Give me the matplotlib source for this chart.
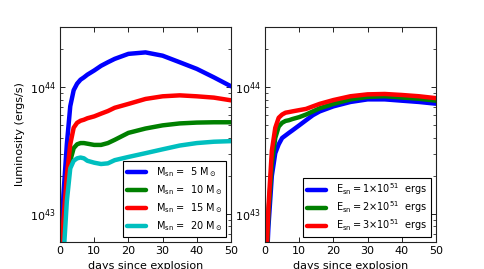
import matplotlib
matplotlib.use("Agg")
import matplotlib.pyplot as plt
import numpy as np

# time grid (days since explosion)
days = [0, 1, 2, 3, 4, 5, 6, 7, 8, 10, 12, 14, 16, 20, 25, 30, 35, 40, 45, 50]

# Left panel: luminosity in units of 1e43 erg/s for different ejecta masses
lum_m5 = [0.32, 1.41, 3.55, 7.1, 9.5, 10.7, 11.5, 12.0, 12.6, 13.6, 14.8, 15.8, 16.8, 18.4, 18.9, 17.8, 15.8, 14.0, 12.0, 10.2]
lum_m10 = [0.20, 0.71, 1.58, 2.63, 3.31, 3.55, 3.63, 3.63, 3.59, 3.51, 3.51, 3.63, 3.85, 4.37, 4.73, 5.01, 5.19, 5.27, 5.30, 5.30]
lum_m15 = [0.25, 0.89, 2.0, 3.55, 4.8, 5.25, 5.45, 5.55, 5.7, 5.9, 6.2, 6.5, 6.9, 7.4, 8.1, 8.5, 8.65, 8.5, 8.3, 7.9]
lum_m20 = [0.16, 0.45, 1.26, 2.29, 2.63, 2.75, 2.79, 2.75, 2.63, 2.54, 2.48, 2.51, 2.66, 2.82, 3.02, 3.24, 3.47, 3.63, 3.72, 3.76]

# Right panel: luminosity in units of 1e43 erg/s for different explosion energies
lum_e1 = [0.20, 0.79, 2.0, 3.02, 3.55, 3.98, 4.17, 4.37, 4.57, 5.01, 5.50, 6.03, 6.46, 7.08, 7.67, 8.04, 8.04, 7.85, 7.67, 7.43]
lum_e2 = [0.22, 1.0, 2.51, 3.98, 4.9, 5.25, 5.43, 5.5, 5.62, 5.82, 6.1, 6.46, 6.84, 7.41, 8.04, 8.41, 8.51, 8.32, 8.13, 7.85]
lum_e3 = [0.25, 1.12, 3.16, 4.79, 5.75, 6.1, 6.31, 6.38, 6.46, 6.61, 6.76, 7.08, 7.41, 7.94, 8.51, 8.81, 8.87, 8.71, 8.51, 8.22]

left_series = [lum_m5, lum_m10, lum_m15, lum_m20]
left_labels = [r'M$_{\rm sn}$ =  5 M$_\odot$', r'M$_{\rm sn}$ =  10 M$_\odot$',
               r'M$_{\rm sn}$ =  15 M$_\odot$', r'M$_{\rm sn}$ =  20 M$_\odot$']
left_colors = ['#0000ff', '#008000', '#ff0000', '#00bfbf']

right_series = [lum_e1, lum_e2, lum_e3]
right_labels = [r'E$_{\rm sn}$$=$1$\times$10$^{51}$  ergs', r'E$_{\rm sn}$$=$2$\times$10$^{51}$  ergs',
                r'E$_{\rm sn}$$=$3$\times$10$^{51}$  ergs']
right_colors = ['#0000ff', '#008000', '#ff0000']

plt.rcParams['font.family'] = ['DejaVu Sans']
plt.rcParams['font.size'] = 7
plt.rcParams['mathtext.default'] = 'regular'

fig = plt.figure(figsize=(4.85, 2.69), dpi=100)
ax1 = fig.add_axes([60/485, 1-242/269, 171/485, 215/269])
ax2 = fig.add_axes([265/485, 1-242/269, 171/485, 215/269])

t = np.array(days)
for ax, series, labels, colors, lsp in [(ax1, left_series, left_labels, left_colors, 0.45),
                                         (ax2, right_series, right_labels, right_colors, 0.22)]:
    for s, lab, c in zip(series, labels, colors):
        ax.plot(t, np.array(s) * 1e43, color=c, lw=3.2, label=lab, solid_capstyle='round')
    ax.set_yscale('log')
    ax.set_xlim(0, 50)
    ax.set_ylim(6e42, 3e44)
    ax.set_xticks([0, 10, 20, 30, 40, 50])
    ax.tick_params(which='both', direction='in', top=True, right=True, labelsize=8, pad=3)
    ax.tick_params(which='major', length=3.5, width=0.6)
    ax.tick_params(which='minor', length=2, width=0.5)
    for sp in ax.spines.values():
        sp.set_linewidth(0.8)
        sp.set_color('#222222')
    ax.set_xlabel('days since explosion', fontsize=8, labelpad=3.5)
    leg = ax.legend(loc='lower right', fontsize=7, frameon=True, fancybox=False,
                    edgecolor='black', framealpha=1, handlelength=2.0,
                    borderaxespad=0.5, labelspacing=lsp, handletextpad=1.0)
    leg.get_frame().set_linewidth(0.8)

ax1.set_ylabel('luminosity (ergs/s)', fontsize=8)

fig.savefig('out.png', dpi=100, facecolor='white')
